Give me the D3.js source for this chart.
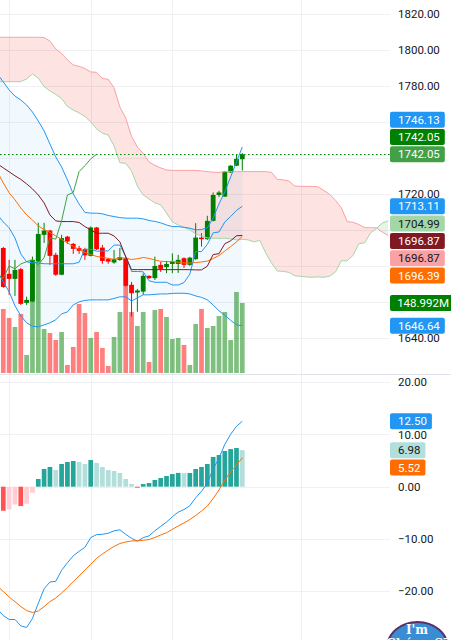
<!DOCTYPE html>
<html>
<head>
<meta charset="utf-8">
<script src="https://cdn.jsdelivr.net/npm/d3@7"></script>
<style>
html,body{margin:0;padding:0;background:#fff;overflow:hidden}
svg{display:block;font-family:Roboto,"Liberation Sans",sans-serif}
</style>
</head>
<body>
<div id="chart"></div>
<script>
'use strict'
// candles, bar 0..41
const open=[1689.9,1675.5,1672.7,1678.1,1659.3,1660.1,1682.3,1697.2,1699.6,1686.1,1675.0,1696.2,1692.2,1689.8,1689.2,1685.5,1701.3,1690.1,1683.7,1681.8,1683.2,1684.2,1669.4,1665.1,1665.6,1674.4,1673.1,1680.5,1679.2,1681.0,1681.0,1684.2,1680.5,1683.7,1695.7,1694.8,1705.0,1719.4,1718.5,1731.9,1735.7,1739.3]
const high=[1690.5,1683.3,1683.3,1678.8,1662.8,1685.1,1704.0,1703.9,1700.0,1687.2,1697.2,1696.6,1692.7,1691.1,1690.0,1701.9,1701.6,1691.6,1684.4,1688.8,1689.9,1685.0,1671.0,1667.1,1675.8,1674.6,1685.1,1682.2,1682.7,1686.9,1686.1,1684.7,1685.0,1703.7,1698.1,1707.8,1720.8,1721.7,1732.8,1736.1,1741.7,1742.8]
const low=[1667.7,1663.8,1663.2,1658.2,1658.2,1659.9,1682.2,1692.7,1680.5,1674.4,1674.7,1692.2,1686.6,1686.6,1683.3,1685.2,1688.8,1681.1,1681.1,1681.1,1682.7,1668.5,1651.7,1654.4,1663.8,1672.7,1672.1,1676.6,1675.9,1675.9,1676.0,1678.8,1679.9,1683.3,1690.7,1694.4,1704.7,1718.3,1718.3,1731.7,1735.5,1733.0]
const close=[1668.2,1672.7,1677.7,1658.8,1661.0,1683.3,1697.7,1699.6,1685.5,1675.0,1695.4,1693.5,1689.4,1688.3,1685.8,1701.3,1689.2,1682.7,1682.3,1683.7,1684.8,1668.8,1664.7,1666.2,1674.4,1673.1,1679.9,1678.3,1681.0,1682.3,1683.3,1680.5,1684.5,1695.7,1694.8,1705.0,1719.4,1720.8,1732.4,1735.7,1739.5,1742.05]
// volume in millions
const volume=[136.2,117.1,97.9,125.6,38.3,236.3,236.3,93.7,85.1,70.2,87.3,17.0,55.3,146.9,127.7,74.5,87.3,53.2,14.9,76.6,129.8,185.2,129.8,100.0,129.8,23.4,134.1,136.2,119.2,72.4,74.5,59.6,17.0,104.3,136.2,95.8,100.0,121.3,129.8,70.2,172.4,148.992]

// indicator lines, bar -1..41
const lineStart=-1
const bbUpper=[1786.8,1782.3,1777.9,1774.5,1772.3,1769.5,1765.6,1760.6,1755.1,1747.8,1740.6,1735.0,1727.8,1720.0,1714.4,1709.7,1709.3,1709.3,1708.9,1708.0,1707.4,1706.8,1706.5,1706.5,1706.5,1706.1,1705.2,1704.7,1703.9,1702.7,1701.8,1701.8,1701.4,1700.9,1700.0,1700.2,1701.1,1706.6,1714.4,1721.1,1729.5,1737.8,1746.13]
const bbBasis=[1732.2,1726.1,1720.6,1716.7,1712.2,1708.3,1705.5,1702.2,1700.2,1698.6,1696.6,1694.7,1692.7,1690.8,1689.1,1687.4,1686.3,1685.2,1684.7,1684.1,1683.6,1684.4,1684.2,1683.5,1683.9,1684.6,1684.1,1683.2,1682.5,1682.3,1682.3,1682.0,1681.6,1681.5,1681.8,1682.1,1682.6,1684.0,1685.7,1688.2,1690.7,1693.3,1696.39]
const bbLower=[1677.0,1671.0,1665.5,1657.7,1652.1,1648.2,1646.3,1646.0,1647.1,1648.2,1649.9,1653.2,1654.3,1658.2,1659.9,1660.7,1661.0,1661.0,1661.0,1661.0,1661.8,1662.7,1662.7,1660.4,1662.1,1663.8,1663.8,1664.1,1664.3,1664.3,1664.6,1664.7,1664.7,1664.3,1663.2,1662.4,1661.0,1658.2,1654.9,1652.4,1649.6,1647.1,1646.64]
const tenkan=[1708.3,1704.4,1701.1,1695.5,1686.6,1682.2,1681.6,1681.6,1681.1,1681.1,1681.1,1681.1,1681.1,1681.1,1681.95,1689.2,1689.15,1688.15,1688.15,1688.3,1691.5,1691.5,1685.2,1676.8,1676.8,1676.65,1671.65,1670.8,1670.8,1670.8,1669.3,1669.3,1670.65,1675.35,1687.9,1687.9,1691.85,1698.35,1698.8,1704.4,1707.45,1710.8,1713.11]
const kijun=[1736.7,1734.5,1732.3,1730.1,1728.1,1725.6,1722.8,1719.4,1715.0,1708.3,1705.0,1704.6,1704.6,1704.6,1704.1,1701.8,1700.0,1698.1,1698.1,1698.1,1696.6,1693.3,1685.0,1677.85,1677.85,1677.85,1677.85,1677.85,1677.85,1677.85,1677.85,1677.85,1677.85,1677.8,1677.7,1677.7,1679.75,1686.25,1686.7,1692.25,1693.9,1696.7,1696.87]
// cloud, bar -1..66 (drawn 25 bars ahead)
const spanA=[1782.5,1782.5,1782.5,1782.5,1782.5,1784.0,1786.8,1784.5,1779.8,1777.3,1775.4,1773.1,1768.7,1766.7,1765.1,1763.1,1760.1,1756.2,1753.8,1752.8,1746.7,1737.4,1737.0,1732.8,1724.4,1719.4,1717.2,1715.0,1713.9,1709.4,1704.4,1702.7,1701.4,1700.0,1697.7,1696.6,1695.5,1695.3,1695.3,1695.3,1695.0,1694.4,1694.7,1694.4,1693.3,1694.1,1687.2,1681.6,1677.1,1676.9,1676.3,1674.4,1674.1,1673.8,1673.6,1673.8,1673.6,1674.2,1676.6,1682.8,1682.8,1685.8,1692.3,1692.75,1698.3,1700.7,1703.75,1704.99]
const spanB=[1807.2,1807.2,1807.2,1807.2,1807.2,1807.2,1807.2,1807.2,1807.1,1805.1,1800.7,1798.2,1794.6,1791.8,1791.0,1789.8,1787.9,1787.7,1784.3,1783.8,1779.0,1768.4,1762.3,1752.0,1746.1,1742.6,1737.8,1735.9,1734.5,1733.3,1733.1,1733.1,1733.1,1733.1,1733.1,1732.8,1732.4,1732.1,1732.0,1732.4,1732.4,1732.4,1732.4,1732.4,1732.4,1732.4,1732.4,1732.0,1728.1,1727.8,1727.2,1724.4,1724.2,1724.2,1724.2,1723.9,1721.9,1719.7,1716.4,1712.2,1704.6,1704.2,1703.0,1701.2,1701.2,1701.1,1698.8,1696.87]
const lagShift=25

// MACD pane, lines bar -1..41, histogram bar 0..41
const macdLine=[-23.4,-24.64,-25.39,-25.39,-26.61,-26.92,-25.20,-22.30,-19.53,-18.22,-18.09,-15.99,-14.55,-13.22,-12.35,-11.59,-9.74,-9.16,-9.10,-8.91,-8.43,-8.24,-9.10,-9.87,-10.43,-9.74,-9.40,-8.43,-7.58,-6.76,-5.73,-4.87,-4.36,-3.65,-2.13,-0.88,0.65,3.42,5.43,8.11,10.01,11.55,12.50]
const signalLine=[-18.99,-20.04,-21.09,-21.99,-22.91,-23.67,-24.05,-23.77,-22.91,-21.99,-21.28,-20.33,-19.27,-18.13,-17.07,-15.93,-14.84,-13.69,-12.87,-12.10,-11.43,-10.86,-10.57,-10.38,-10.33,-10.25,-10.10,-9.71,-9.24,-8.80,-8.15,-7.51,-6.94,-6.27,-5.51,-4.65,-3.69,-2.26,-0.63,1.28,2.81,4.15,5.52]
const hist=[-4.6,-4.3,-3.4,-3.7,-3.25,-1.15,1.47,3.38,3.77,3.19,4.34,4.72,4.91,4.72,4.34,5.1,4.53,3.77,3.19,3.0,2.62,1.47,0.51,-0.1,0.51,0.7,1.28,1.66,2.04,2.42,2.64,2.58,2.62,3.38,3.77,4.34,5.68,6.06,6.83,7.2,7.4,6.98]

const priceTicks=d3.range(1640,1821,20)
const macdTicks=[-20,-10,0,10,20]
const gridBars=[1,15,29,51]

const W=451,H=640,plotW=390
const paneBottom=374,macdTop=375
const upColor='#008000',downColor='#ff0000'

const x=d3.scaleLinear().domain([0,41]).range([3.3,242.3])
const y=d3.scaleLinear().domain([1640,1820]).range([337.6,14.3])
const yv=d3.scaleLinear().domain([0,100]).range([373,326])
const ym=d3.scaleLinear().domain([-20,20]).range([591.3,382.1])
const fmt=d3.format('.2f')

const svg=d3.select('#chart').append('svg').attr('width',W).attr('height',H)
const defs=svg.append('defs')
defs.append('clipPath').attr('id','clipPrice').append('rect').attr('x',0).attr('y',0).attr('width',plotW).attr('height',paneBottom)
defs.append('clipPath').attr('id','clipMacd').append('rect').attr('x',0).attr('y',macdTop).attr('width',plotW).attr('height',H-macdTop)

// grid
let grid=svg.append('g').attr('stroke','#eef0f3').attr('stroke-width',1)
priceTicks.forEach(v=>{let yy=Math.round(y(v))+0.5
grid.append('line').attr('x1',0).attr('x2',plotW).attr('y1',yy).attr('y2',yy)})
macdTicks.forEach(v=>{let yy=Math.round(ym(v))+0.5
grid.append('line').attr('x1',0).attr('x2',plotW).attr('y1',yy).attr('y2',yy)})
gridBars.forEach(b=>{let xx=Math.round(x(b))+0.5
grid.append('line').attr('x1',xx).attr('x2',xx).attr('y1',0).attr('y2',paneBottom)
grid.append('line').attr('x1',xx).attr('x2',xx).attr('y1',macdTop).attr('y2',H)})
svg.append('line').attr('x1',0).attr('x2',W).attr('y1',paneBottom+0.5).attr('y2',paneBottom+0.5).attr('stroke','#e0e3eb')

const pts=(arr,start)=>arr.map((v,k)=>({i:start+k,v:v}))
const pLine=d3.line().x(d=>x(d.i)).y(d=>y(d.v))

let pg=svg.append('g').attr('clip-path','url(#clipPrice)')

// ichimoku cloud fill
let cloud=spanA.map((a,k)=>({i:lineStart+k,a:a,b:spanB[k]}))
defs.append('clipPath').attr('id','aboveA').append('path').attr('d',d3.area().x(d=>x(d.i)).y0(0).y1(d=>y(d.a))(cloud))
defs.append('clipPath').attr('id','belowA').append('path').attr('d',d3.area().x(d=>x(d.i)).y0(paneBottom).y1(d=>y(d.a))(cloud))
pg.append('path').attr('d',d3.area().x(d=>x(d.i)).y0(paneBottom).y1(d=>y(d.b))(cloud)).attr('clip-path','url(#aboveA)').attr('fill','rgba(244,67,54,0.15)')
pg.append('path').attr('d',d3.area().x(d=>x(d.i)).y0(0).y1(d=>y(d.b))(cloud)).attr('clip-path','url(#belowA)').attr('fill','rgba(67,160,71,0.12)')

// bollinger fill
let band=bbUpper.map((u,k)=>({i:lineStart+k,u:u,l:bbLower[k]}))
pg.append('path').attr('d',d3.area().x(d=>x(d.i)).y0(d=>y(d.l)).y1(d=>y(d.u))(band)).attr('fill','rgba(33,150,243,0.06)')

// volume
pg.selectAll('rect.vol').data(volume).enter().append('rect').attr('class','vol')
.attr('x',(d,i)=>x(i)-2.35).attr('width',4.7)
.attr('y',d=>yv(d)).attr('height',d=>yv(0)-yv(d))
.attr('fill',(d,i)=>close[i]>=open[i]?'rgba(0,128,0,0.5)':'rgba(255,0,0,0.5)')

// candles
let cg=pg.append('g')
close.forEach((c,i)=>{let col=c>=open[i]?upColor:downColor
cg.append('line').attr('x1',x(i)).attr('x2',x(i)).attr('y1',y(high[i])).attr('y2',y(low[i])).attr('stroke',col).attr('stroke-width',1)
let top=y(Math.max(open[i],c)),bot=y(Math.min(open[i],c))
cg.append('rect').attr('x',x(i)-2.4).attr('width',4.8).attr('y',top).attr('height',Math.max(1,bot-top)).attr('fill',col)})

// indicator lines
function drawLine(g,arr,start,color,gen){g.append('path').attr('d',gen(pts(arr,start))).attr('fill','none').attr('stroke',color).attr('stroke-width',1)}
drawLine(pg,spanA,lineStart,'#A5D6A7',pLine)
drawLine(pg,spanB,lineStart,'#FAA1A4',pLine)
drawLine(pg,bbUpper,lineStart,'#2196F3',pLine)
drawLine(pg,bbLower,lineStart,'#2196F3',pLine)
drawLine(pg,bbBasis,lineStart,'#FF6D00',pLine)
drawLine(pg,tenkan,lineStart,'#2196F3',pLine)
drawLine(pg,kijun,lineStart,'#801922',pLine)
drawLine(pg,close.slice(lagShift-1),-1,'#43A047',pLine)

// last price line
let lastY=Math.round(y(close[41]))+0.5
svg.append('line').attr('x1',0).attr('x2',plotW).attr('y1',lastY).attr('y2',lastY).attr('stroke',upColor).attr('stroke-dasharray','1.5,2.5')

// MACD pane
let mg=svg.append('g').attr('clip-path','url(#clipMacd)')
const histColor=(v,i)=>{let prev=i>0?hist[i-1]:v+1
if(v>=0)return v>=prev?'#26A69A':'#B2DFDB'
return v<prev?'#FF5252':'#FFCDD2'}
mg.selectAll('rect.h').data(hist).enter().append('rect').attr('class','h')
.attr('x',(d,i)=>x(i)-2.35).attr('width',4.7)
.attr('y',d=>Math.min(ym(d),ym(0))).attr('height',d=>Math.max(1,Math.abs(ym(d)-ym(0))))
.attr('fill',histColor)
const mLine=d3.line().x(d=>x(d.i)).y(d=>ym(d.v))
drawLine(mg,macdLine,lineStart,'#2196F3',mLine)
drawLine(mg,signalLine,lineStart,'#FF6D00',mLine)

// value badges: layout first (anchor stays, others pushed apart)
function layout(items,anchor,h){let list=items.map((d,k)=>Object.assign({k:k,yy:d.pos},d))
list.sort((a,b)=>a.yy-b.yy||a.k-b.k)
let ai=list.findIndex(d=>d.k==anchor)
for(let j=ai-1;j>=0;j--)list[j].yy=Math.min(list[j].yy,list[j+1].yy-h)
for(let j=ai+1;j<list.length;j++)list[j].yy=Math.max(list[j].yy,list[j-1].yy+h)
return list}

let priceBadges=layout([
{pos:y(bbUpper[42]),text:fmt(bbUpper[42]),color:'#2196F3',tc:'#fff'},
{pos:y(close[41]),text:fmt(close[41]),color:'#008000',tc:'#fff'},
{pos:y(close[41]),text:fmt(close[41]),color:'#43A047',tc:'#fff'},
{pos:y(tenkan[42]),text:fmt(tenkan[42]),color:'#2196F3',tc:'#fff'},
{pos:y(spanA[67]),text:fmt(spanA[67]),color:'#A5D6A7',tc:'#131722'},
{pos:y(kijun[42]),text:fmt(kijun[42]),color:'#801922',tc:'#fff'},
{pos:y(spanB[67]),text:fmt(spanB[67]),color:'#FAA1A4',tc:'#131722'},
{pos:y(bbBasis[42]),text:fmt(bbBasis[42]),color:'#FF6D00',tc:'#fff'},
{pos:yv(volume[41]),text:d3.format('.3f')(volume[41])+'M',color:'#008000',tc:'#fff'},
{pos:y(bbLower[42]),text:fmt(bbLower[42]),color:'#2196F3',tc:'#fff'}],2,17.3)
let macdBadges=layout([
{pos:ym(macdLine[42]),text:fmt(macdLine[42]),color:'#2196F3',tc:'#fff'},
{pos:ym(hist[41]),text:fmt(hist[41]),color:'#B2DFDB',tc:'#131722'},
{pos:ym(signalLine[42]),text:fmt(signalLine[42]),color:'#FF6D00',tc:'#fff'}],0,17.3)
let allBadges=priceBadges.concat(macdBadges)

// axes; a tick label that a badge hides is left out
function covered(c){let a=c-5,b=c+5,s=0
allBadges.forEach(d=>{s+=Math.max(0,Math.min(b,d.yy+8)-Math.max(a,d.yy-8))})
return s>6}
function axis(scale,ticks){let a=svg.append('g').attr('transform','translate('+plotW+',0)')
.call(d3.axisRight(scale).tickValues(ticks.filter(v=>!covered(scale(v)))).tickFormat(fmt).tickSize(0).tickPadding(8))
a.select('.domain').remove()
a.selectAll('text').attr('fill','#131722').style('font-size','11.5px').style('font-family','Roboto,"Liberation Sans",sans-serif')}
axis(y,priceTicks)
axis(ym,macdTicks)

allBadges.forEach(d=>{let g=svg.append('g')
let r=g.append('rect').attr('fill',d.color).attr('rx',2)
let t=g.append('text').attr('y',d.yy).attr('dy','0.36em').attr('fill',d.tc).style('font-size','11.5px').text(d.text)
let tw=t.node().getComputedTextLength()
let tx=Math.min(398,W-2-tw)
t.attr('x',tx)
let rx=Math.min(390,tx-4)
r.attr('x',rx).attr('y',d.yy-8).attr('height',16).attr('width',tx+tw+5-rx)})

// watermark
let logo=svg.append('g')
logo.append('ellipse').attr('cx',417.5).attr('cy',647).attr('rx',30).attr('ry',25).attr('fill','#3a8dd3').attr('stroke','#5a2d6c').attr('stroke-width',2)
logo.append('text').attr('x',417).attr('y',634).attr('text-anchor','middle').attr('fill','#fff').style('font-family','"DejaVu Serif","Liberation Serif",serif').style('font-size','12px').style('font-weight','bold').text("I'm")
logo.append('text').attr('x',417).attr('y',648).attr('text-anchor','middle').attr('fill','#fff').style('font-family','"DejaVu Serif","Liberation Serif",serif').style('font-size','12px').style('font-weight','bold').text('Chứng Sĩ')
</script>
</body>
</html>
